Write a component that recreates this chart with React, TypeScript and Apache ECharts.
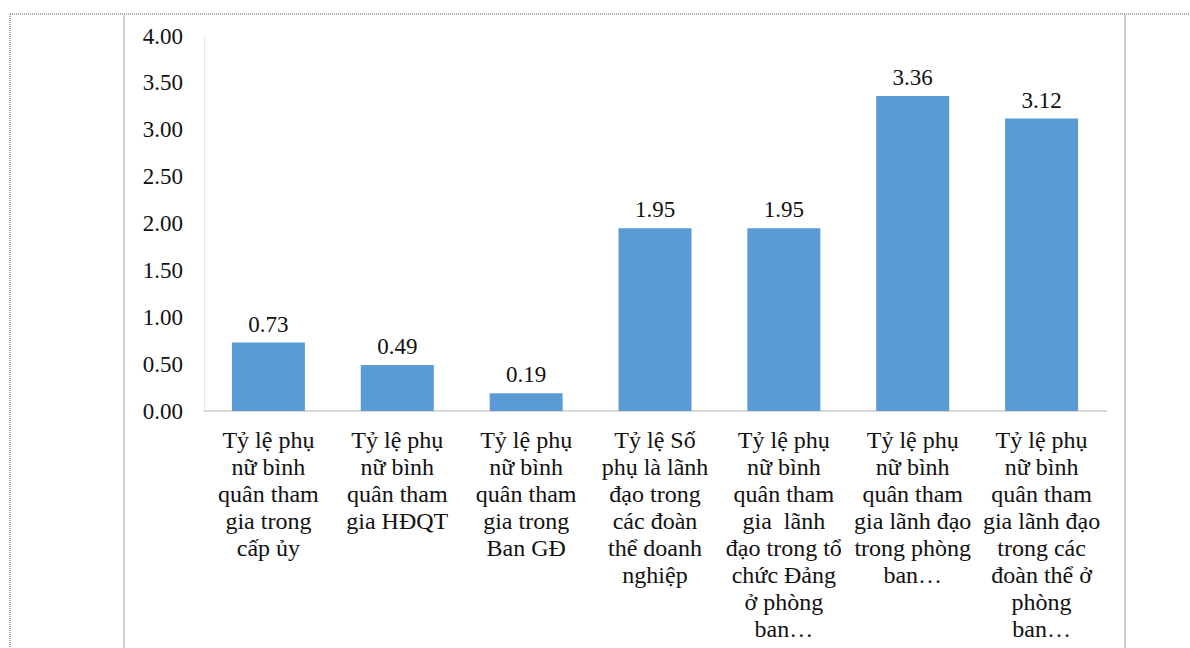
import React, { useEffect, useRef } from "react";
import * as echarts from "echarts";

const categories: string[] = [
  "Tỷ lệ phụ\nnữ bình\nquân tham\ngia trong\ncấp ủy",
  "Tỷ lệ phụ\nnữ bình\nquân tham\ngia HĐQT",
  "Tỷ lệ phụ\nnữ bình\nquân tham\ngia trong\nBan GĐ",
  "Tỷ lệ Số\nphụ là lãnh\nđạo trong\ncác đoàn\nthể doanh\nnghiệp",
  "Tỷ lệ phụ\nnữ bình\nquân tham\ngia  lãnh\nđạo trong tổ\nchức Đảng\nở phòng\nban…",
  "Tỷ lệ phụ\nnữ bình\nquân tham\ngia lãnh đạo\ntrong phòng\nban…",
  "Tỷ lệ phụ\nnữ bình\nquân tham\ngia lãnh đạo\ntrong các\nđoàn thể ở\nphòng\nban…",
];

const values: number[] = [0.73, 0.49, 0.19, 1.95, 1.95, 3.36, 3.12];

const yMin = 0;
const yMax = 4;
const yStep = 0.5;

const FONT = "Times New Roman";

export default function App() {
  const ref = useRef<HTMLDivElement>(null);

  useEffect(() => {
    if (!ref.current) return;
    const chart = echarts.init(ref.current, undefined, { renderer: "svg" });
    chart.setOption({
      animation: false,
      backgroundColor: "#ffffff",
      textStyle: { fontFamily: FONT },
      grid: { left: 204, right: 84, top: 36, bottom: 237, containLabel: false },
      xAxis: {
        type: "category",
        data: categories,
        axisLine: { show: true, lineStyle: { color: "#d9d9d9", width: 2 } },
        axisTick: { show: false },
        axisLabel: {
          interval: 0,
          margin: 15,
          color: "#111111",
          fontFamily: FONT,
          fontSize: 24,
          lineHeight: 27,
          align: "center",
        },
      },
      yAxis: {
        type: "value",
        min: yMin,
        max: yMax,
        interval: yStep,
        axisLine: { show: true, lineStyle: { color: "#deebf7", width: 1 } },
        axisTick: { show: false },
        splitLine: { show: false },
        axisLabel: {
          margin: 21,
          color: "#111111",
          fontFamily: FONT,
          fontSize: 23,
          formatter: (v: number) => v.toFixed(2),
        },
      },
      series: [
        {
          type: "bar",
          data: values,
          barWidth: 73,
          itemStyle: { color: "#5b9bd5" },
          label: {
            show: true,
            position: "top",
            distance: 7,
            color: "#111111",
            fontFamily: FONT,
            fontSize: 23,
            formatter: (p: any) => Number(p.value).toFixed(2),
          },
        },
      ],
      graphic: [
        {
          type: "line",
          shape: { x1: 10, y1: 14, x2: 1190, y2: 14 },
          style: { stroke: "#555555", lineWidth: 1, lineDash: [1, 1] },
          silent: true,
        },
        {
          type: "line",
          shape: { x1: 10, y1: 14, x2: 10, y2: 648 },
          style: { stroke: "#555555", lineWidth: 1, lineDash: [1, 1] },
          silent: true,
        },
        {
          type: "line",
          shape: { x1: 124, y1: 15, x2: 124, y2: 648 },
          style: { stroke: "#d0d0d0", lineWidth: 2 },
          silent: true,
        },
        {
          type: "line",
          shape: { x1: 1125, y1: 15, x2: 1125, y2: 648 },
          style: { stroke: "#d0d0d0", lineWidth: 2 },
          silent: true,
        },
      ],
    });
    return () => chart.dispose();
  }, []);

  return (
    <div
      ref={ref}
      style={{ position: "fixed", left: 0, top: 0, width: 1190, height: 648, background: "#fff" }}
    />
  );
}
